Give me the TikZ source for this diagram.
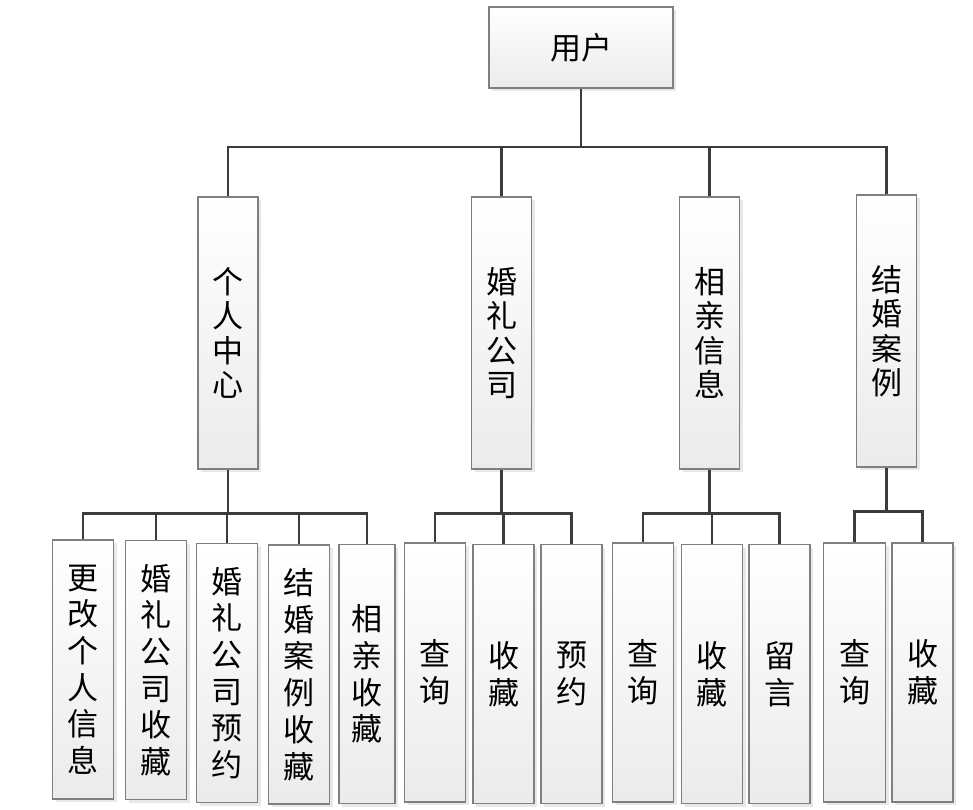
\documentclass[tikz,border=0pt]{standalone}
\usepackage{fontspec}
\setmainfont{Noto Sans CJK SC}
\usetikzlibrary{shadows}
\definecolor{cLine}{HTML}{3C3C3C}
\definecolor{cEdge}{HTML}{7F7F7F}
\definecolor{cFoot}{HTML}{EBEBEB}

\begin{document}
\begin{tikzpicture}[x=1pt,y=-1pt,
    box/.style={draw=cEdge,line width=1.4pt,top color=white,bottom color=cFoot,
      drop shadow={shadow xshift=3pt,shadow yshift=-3pt,fill=black!15,opacity=.6},
      align=center,inner sep=0pt},
    mid/.style={box,minimum width=60pt,minimum height=272pt,
      font=\fontsize{31}{34.5}\selectfont},
    leaf/.style={box,minimum width=61pt,minimum height=259pt,
      font=\fontsize{31}{36.7}\selectfont},
    wire/.style={cLine,line width=2.5pt}]
  \useasboundingbox (0,0) rectangle (973,809);

  % root
  \node[box,minimum width=184pt,minimum height=81pt,font=\fontsize{31}{34}\selectfont]
    (top) at (581,47.5) {用户};

  % second row
  \node[mid] (m1) at (228,333) {个\\人\\中\\心};
  \node[mid] (m2) at (501.5,333) {婚\\礼\\公\\司};
  \node[mid] (m3) at (709.5,333) {相\\亲\\信\\息};
  \node[mid] (m4) at (886.5,331) {结\\婚\\案\\例};

  % leaves
  \node[leaf] (s11) at (83,669.5) {更\\改\\个\\人\\信\\息};
  \node[leaf] (s12) at (156,670) {婚\\礼\\公\\司\\收\\藏};
  \node[leaf] (s13) at (227,673) {婚\\礼\\公\\司\\预\\约};
  \node[leaf] (s14) at (299,674.5) {结\\婚\\案\\例\\收\\藏};
  \node[leaf,minimum width=56pt] (s15) at (367,674) {相\\亲\\收\\藏};
  \node[leaf] (s21) at (435,672.5) {查\\询};
  \node[leaf] (s22) at (503.5,674) {收\\藏};
  \node[leaf] (s23) at (571.5,674) {预\\约};
  \node[leaf] (s31) at (643,672.5) {查\\询};
  \node[leaf] (s32) at (712,674) {收\\藏};
  \node[leaf] (s33) at (779.5,674) {留\\言};
  \node[leaf,minimum width=62pt] (s41) at (854.5,672.5) {查\\询};
  \node[leaf] (s42) at (922.5,672.5) {收\\藏};

  % connectors
  \coordinate (bus0) at (581,147);
  \draw[wire] (top) -- (bus0);
  \foreach \i in {1,...,4}
    \draw[wire] (bus0) -| (m\i.north);
  \foreach \g/\n in {1/5,2/3,3/3,4/2}{
    \path (m\g.south) ++(0,44) coordinate (bus\g);
    \draw[wire] (m\g) -- (bus\g);
    \foreach \j in {1,...,\n}
      \draw[wire] (bus\g) -| (s\g\j.north);
  }
\end{tikzpicture}
\end{document}
